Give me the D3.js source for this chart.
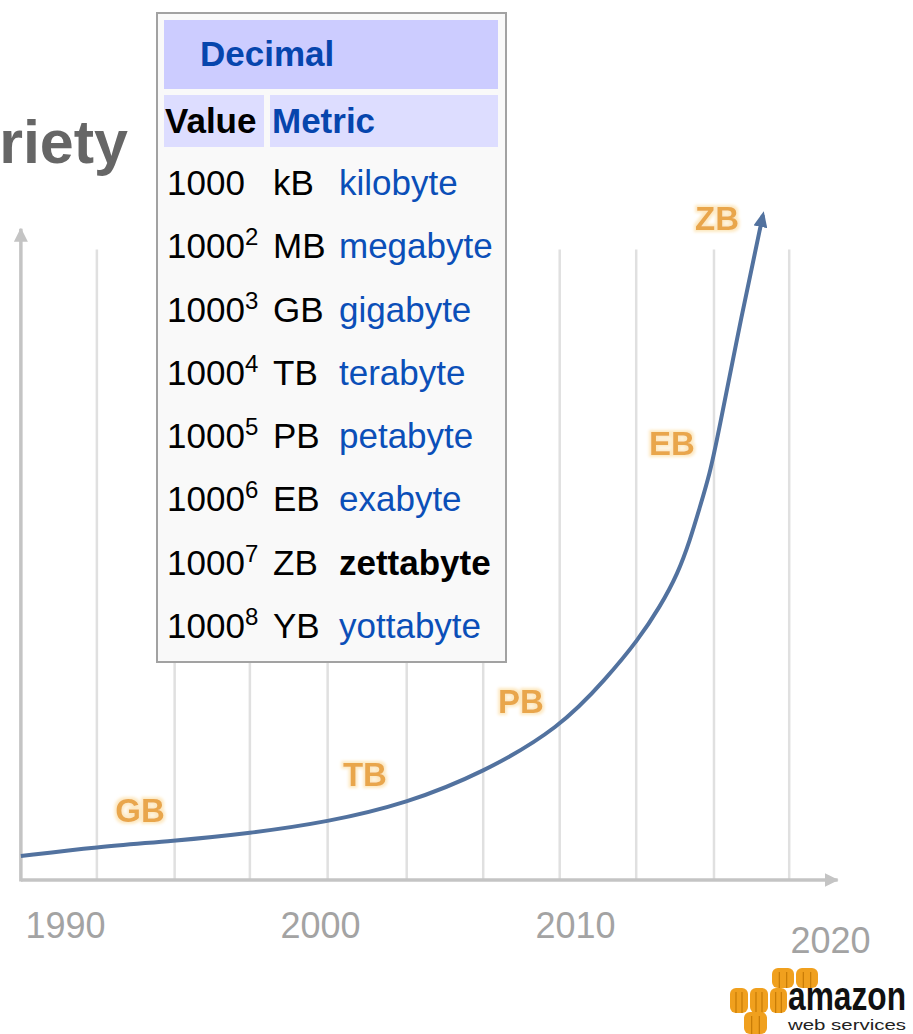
<!DOCTYPE html>
<html>
<head>
<meta charset="utf-8">
<script src="https://cdn.jsdelivr.net/npm/d3@7"></script>
<style>
body{margin:0;background:#fff;}
svg{display:block;font-family:"Liberation Sans",Arial,sans-serif;}
</style>
</head>
<body>
<div class="canvas"></div>
<script>
// data volume curve (y has no scale in the picture, so it's an index 0-100)
const years=[1988.27,1991.25,1994.24,1997.25,2000.27,2003.41,2006.39,2009.41,2011.25,2012.47,2013.33,2014.04,2014.51,2014.9,2015.29,2015.57,2016.55,2017.37];
const volume=[3.7,5.1,6.0,7.2,8.9,11.8,16.5,23.4,31.1,36.9,42.0,47.2,52.3,57.4,62.6,67.7,87.2,102.3];

// orange size labels along the curve
const sizeLabels=['GB','TB','PB','EB','ZB'];
const labelYears=[1992.94,2001.76,2007.88,2013.8,2015.57];
const labelVolume=[8.9,14.5,25.7,65.4,100];

// axis
const tickYears=[1990,2000,2010,2020];
const gridYears=[1991.25,1994.3,1997.25,2000.3,2003.4,2006.4,2009.4,2012.4,2015.45,2018.4];
const xExtent=[1988.27,2020.3];

// decimal prefix table
const exponents=['','2','3','4','5','6','7','8'];
const units=['kB','MB','GB','TB','PB','EB','ZB','YB'];
const unitNames=['kilobyte','megabyte','gigabyte','terabyte','petabyte','exabyte','zettabyte','yottabyte'];
const highlight='zettabyte';

const dims={width:913,height:1034};

const svg=d3.select('.canvas')
      .append('svg')
      .attr('width',dims.width)
      .attr('height',dims.height);

svg.append('rect').attr('width',dims.width).attr('height',dims.height).attr('fill','#fff');

const x=d3.scaleLinear().domain([1990,2020]).range([65,830]);
const y=d3.scaleLinear().domain([0,100]).range([880,230]);

const defs=svg.append('defs');
//arrow heads
defs.append('marker')
    .attr('id','axisArrow')
    .attr('markerUnits','userSpaceOnUse')
    .attr('viewBox','0 -7 14 14')
    .attr('refX',13).attr('refY',0)
    .attr('markerWidth',14).attr('markerHeight',14)
    .attr('orient','auto')
  .append('path')
    .attr('d','M0,-7L14,0L0,7Z')
    .attr('fill','#c4c4c4');
defs.append('marker')
    .attr('id','curveArrow')
    .attr('markerUnits','userSpaceOnUse')
    .attr('viewBox','0 -7 16 14')
    .attr('refX',12).attr('refY',0)
    .attr('markerWidth',16).attr('markerHeight',14)
    .attr('orient','auto')
  .append('path')
    .attr('d','M0,-7L16,0L0,7Z')
    .attr('fill','#52729f');
//soft glow for the orange labels
const glow=defs.append('filter').attr('id','glow').attr('x','-30%').attr('y','-30%').attr('width','160%').attr('height','160%');
glow.append('feMorphology').attr('in','SourceAlpha').attr('operator','dilate').attr('radius',1.5).attr('result','thick');
glow.append('feFlood').attr('flood-color','#fde8c0');
glow.append('feComposite').attr('in2','thick').attr('operator','in');
glow.append('feGaussianBlur').attr('stdDeviation',1.5).attr('result','halo');
const merge=glow.append('feMerge');
merge.append('feMergeNode').attr('in','halo');
merge.append('feMergeNode').attr('in','SourceGraphic');

//title, cut off at the left edge
svg.append('text')
    .attr('x',128).attr('y',163)
    .attr('text-anchor','end')
    .attr('font-size',61).attr('font-weight','bold')
    .attr('fill','#666')
    .text('Variety');

//grid lines
svg.append('g').selectAll('line')
    .data(gridYears)
    .enter().append('line')
    .attr('x1',d=>x(d)).attr('x2',d=>x(d))
    .attr('y1',y(0)).attr('y2',y(97))
    .attr('stroke','#e0e0e0')
    .attr('stroke-width',2.5);

//axes with arrows
svg.append('line')
    .attr('x1',x(xExtent[0])).attr('x2',x(xExtent[1]))
    .attr('y1',y(0)).attr('y2',y(0))
    .attr('stroke','#c4c4c4').attr('stroke-width',3.5)
    .attr('marker-end','url(#axisArrow)');
svg.append('line')
    .attr('x1',x(xExtent[0])).attr('x2',x(xExtent[0]))
    .attr('y1',y(0)+1.5).attr('y2',y(100.2))
    .attr('stroke','#c4c4c4').attr('stroke-width',3.5)
    .attr('marker-end','url(#axisArrow)');

const xAxis=d3.axisBottom(x).tickValues(tickYears).tickSize(0).tickFormat(d3.format('d'));
const xAxisGroup=svg.append('g').attr('transform',`translate(0,${y(0)})`).call(xAxis);
xAxisGroup.select('.domain').remove();
xAxisGroup.selectAll('text')
    .attr('font-family','"Liberation Sans",Arial,sans-serif')
    .attr('font-size',36)
    .attr('fill','#a3a3a3')
    .attr('dy',0)
    .attr('y',(d,i)=>i===tickYears.length-1?73:58);

//the curve (basis smooths out the reading noise)
const line=d3.line()
    .x(d=>x(d[0]))
    .y(d=>y(d[1]))
    .curve(d3.curveBasis);
svg.append('path')
    .datum(d3.zip(years,volume))
    .attr('d',line)
    .attr('fill','none')
    .attr('stroke','#52729f')
    .attr('stroke-width',4)
    .attr('marker-end','url(#curveArrow)');

//size labels
svg.append('g').selectAll('text')
    .data(sizeLabels)
    .enter().append('text')
    .attr('x',(d,i)=>x(labelYears[i]))
    .attr('y',(d,i)=>y(labelVolume[i]))
    .attr('text-anchor','middle')
    .attr('font-size',33).attr('font-weight','bold')
    .attr('fill','#e9a64b')
    .attr('filter','url(#glow)')
    .text(d=>d);

//table
const table=svg.append('g');
table.append('rect')
    .attr('x',157).attr('y',13).attr('width',349).attr('height',649)
    .attr('fill','#f9f9f9').attr('stroke','#a2a2a2').attr('stroke-width',2);
table.append('rect').attr('x',164).attr('y',20).attr('width',334).attr('height',69).attr('fill','#ccccff');
table.append('rect').attr('x',164).attr('y',95).attr('width',100).attr('height',52).attr('fill','#ddddff');
table.append('rect').attr('x',270).attr('y',95).attr('width',228).attr('height',52).attr('fill','#ddddff');
table.append('text').attr('x',200).attr('y',66)
    .attr('font-size',35).attr('font-weight','bold').attr('fill','#0645ad').text('Decimal');
table.append('text').attr('x',165).attr('y',133)
    .attr('font-size',35).attr('font-weight','bold').attr('fill','#000').text('Value');
table.append('text').attr('x',272).attr('y',133)
    .attr('font-size',35).attr('font-weight','bold').attr('fill','#0645ad').text('Metric');

const row=d3.scalePoint().domain(units).range([195,638]);

const valueText=table.append('g').selectAll('text')
    .data(units)
    .enter().append('text')
    .attr('x',167).attr('y',d=>row(d))
    .attr('font-size',35).attr('fill','#000');
valueText.append('tspan').text('1000');
valueText.append('tspan')
    .attr('dy',-13).attr('font-size',24)
    .text((d,i)=>exponents[i]);

table.append('g').selectAll('text')
    .data(units)
    .enter().append('text')
    .attr('x',273).attr('y',d=>row(d))
    .attr('font-size',35).attr('fill','#000')
    .text(d=>d);

table.append('g').selectAll('text')
    .data(unitNames)
    .enter().append('text')
    .attr('x',339).attr('y',(d,i)=>row(units[i]))
    .attr('font-size',35)
    .attr('font-weight',d=>d===highlight?'bold':'normal')
    .attr('fill',d=>d===highlight?'#000':'#0b4fb8')
    .text(d=>d);

//aws logo, bottom right
const logo=svg.append('g');
const cube=(cx,cy,w,h)=>{
    logo.append('rect').attr('x',cx).attr('y',cy).attr('width',w).attr('height',h)
        .attr('rx',6).attr('fill','#f0a01e');
    [1,2].forEach(k=>{
        logo.append('line')
            .attr('x1',cx+w*k/3).attr('x2',cx+w*k/3)
            .attr('y1',cy+4).attr('y2',cy+h)
            .attr('stroke','#c77b06').attr('stroke-width',1.2);
    });
};
cube(772,968,22,20);cube(796,968,22,20);
cube(730,988,18,25);cube(750,988,18,25);cube(770,988,17,25);
cube(744,1012,23,22);
logo.append('text')
    .attr('x',788).attr('y',1010)
    .attr('font-size',40).attr('font-weight','bold').attr('fill','#111')
    .attr('textLength',118).attr('lengthAdjust','spacingAndGlyphs')
    .text('amazon');
logo.append('text')
    .attr('x',788).attr('y',1030)
    .attr('font-size',15).attr('fill','#222')
    .attr('textLength',118).attr('lengthAdjust','spacingAndGlyphs')
    .text('web services');
</script>
</body>
</html>
